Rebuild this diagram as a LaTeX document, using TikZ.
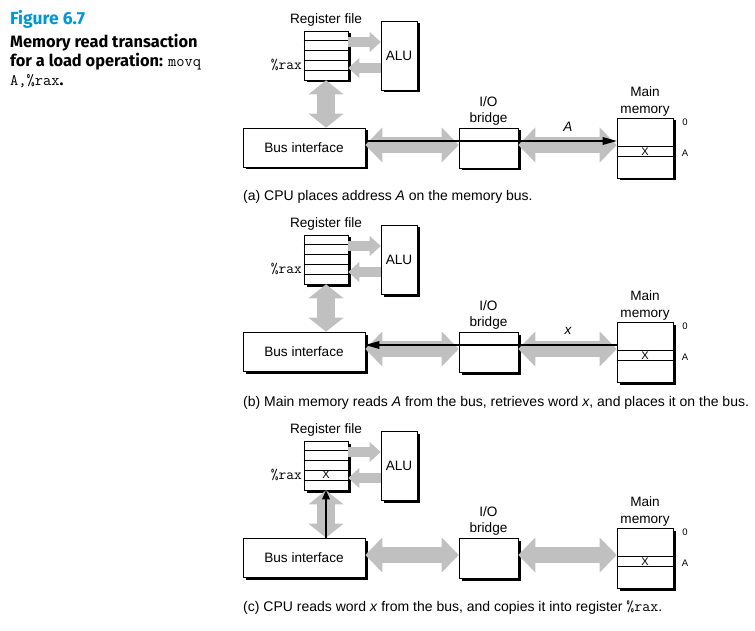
\documentclass[tikz,border=0pt]{standalone}
\usepackage{fontspec}
\setmainfont{Liberation Sans}
\newfontfamily\titlefont{Fira Sans}
\usetikzlibrary{arrows.meta,calc}
\definecolor{figblue}{RGB}{0,150,214}
\definecolor{arrgray}{RGB}{192,192,192}
\tikzset{
  box/.style={draw=black, line width=0.6pt, fill=white, inner sep=0pt,
    preaction={fill=black, transform canvas={shift={(2.5pt,-2.5pt)}}}},
  lbl/.style={font=\fontsize{13.6}{16.5}\selectfont, inner sep=0pt, align=center},
  smalllbl/.style={font=\fontsize{9.5}{10}\selectfont, inner sep=0pt},
  xlbl/.style={font=\fontsize{11}{12}\selectfont, inner sep=0pt},
  ttlbl/.style={font=\fontsize{15}{17}\selectfont\ttfamily, inner sep=0pt},
  bigarrow/.style={draw=arrgray, line width=16pt,
    {Triangle[width=35pt,length=17pt,line width=0pt]}-{Triangle[width=35pt,length=17pt,line width=0pt]}},
  vertarrow/.style={draw=arrgray, line width=18pt,
    {Triangle[width=35pt,length=14pt,line width=0pt]}-{Triangle[width=35pt,length=14pt,line width=0pt]}},
  smallarrow/.style={draw=arrgray, line width=9.5pt,
    -{Triangle[width=20pt,length=11pt,line width=0pt]}},
  blkarrow/.style={draw=black, line width=1.6pt,
    -{Triangle[width=8pt,length=14pt,line width=0pt]}},
  blkvarrow/.style={draw=black, line width=1.6pt,
    -{Triangle[width=8pt,length=9pt,line width=0pt]}},
  caption/.style={font=\fontsize{14}{16}\selectfont, inner sep=0pt, anchor=base west},
  titletxt/.style={font=\titlefont\bfseries\fontsize{16.4}{19}\selectfont, inner sep=0pt, anchor=base west},
}
\newcommand{\drawpanel}[2]{%
\begin{scope}[shift={(0,#2)}]
  % register file
  \node[box, minimum width=44pt, minimum height=49pt] (rf#1) at (326,55.5) {};
  \foreach \i in {1,2,3,4} {
    \draw[line width=0.6pt] ($(rf#1.north west)+(0,9.8*\i)$) -- ($(rf#1.north east)+(0,9.8*\i)$);
  }
  \node[lbl, anchor=south] (rflbl#1) at (326,27) {Register file};
  \node[ttlbl, anchor=east] (rax#1) at (302,65) {\%rax};
  % ALU
  \node[box, lbl, minimum width=36pt, minimum height=69pt] (alu#1) at (399,55.5) {ALU};
  % bus interface
  \node[box, lbl, minimum width=122pt, minimum height=39pt] (bus#1) at (304,147.5) {Bus interface};
  % I/O bridge
  \node[box, minimum width=59pt, minimum height=40pt] (br#1) at (488.5,148) {};
  \node[lbl] (brlbl#1) at (488.5,111) {I/O\\bridge};
  % main memory
  \node[box, minimum width=56pt, minimum height=60pt] (mem#1) at (645,148) {};
  \draw[line width=0.6pt] ($(mem#1.north west)+(0,29)$) -- ($(mem#1.north east)+(0,29)$);
  \draw[line width=0.6pt] ($(mem#1.north west)+(0,39)$) -- ($(mem#1.north east)+(0,39)$);
  \node[xlbl] (memx#1) at (645,152) {X};
  \node[lbl] (memlbl#1) at (645,101.5) {Main\\memory};
  \node[smalllbl] (zero#1) at (685,122) {0};
  \node[smalllbl] (addrA#1) at (685,153) {A};
  % gray arrows
  \draw[smallarrow] ([yshift=13.5pt]rf#1.east) -- ([yshift=13.5pt]rf#1.east -| alu#1.west);
  \draw[smallarrow] ([yshift=-12.5pt]rf#1.east -| alu#1.west) -- ([yshift=-12.5pt]rf#1.east);
  \draw[vertarrow] (rf#1.south) -- (rf#1.south |- bus#1.north);
  \draw[bigarrow] ([yshift=2.5pt]bus#1.east) -- ([yshift=2.5pt]bus#1.east -| br#1.west);
  \draw[bigarrow] ([yshift=3pt]br#1.east) -- ([yshift=3pt]br#1.east -| mem#1.west);
\end{scope}}

\begin{document}
\begin{tikzpicture}[x=1pt,y=-1pt]
\useasboundingbox (0,0) rectangle (755,631);
% title
\node[titletxt, text=figblue, font=\titlefont\bfseries\fontsize{17.5}{19}\selectfont] (fig) at (10,25) {Figure 6.7};
\node[titletxt] (t1) at (10,48) {Memory read transaction};
\node[titletxt] (t2) at (10,67) {for a load operation: {\mdseries\ttfamily\fontsize{16}{18}\selectfont movq}};
\node[titletxt] (t3) at (10,86) {{\mdseries\ttfamily\fontsize{16}{18}\selectfont A,\%rax}.};

% panel (a)
\drawpanel{a}{0}
\draw[blkarrow] ([yshift=6.5pt]busa.east) -- ([yshift=6.5pt]busa.east -| mema.west);
\node[lbl, font=\fontsize{13.6}{16}\selectfont\itshape] (Alab) at (568,127) {A};
\node[caption] (capa) at (243,201) {(a) CPU places address \textit{A} on the memory bus.};

% panel (b)
\drawpanel{b}{204}
\draw[blkarrow] ([yshift=6.5pt]busb.east -| memb.west) -- ([yshift=6.5pt]busb.east);
\node[lbl, font=\fontsize{13.6}{16}\selectfont\itshape] (xlab) at (568,331) {x};
\node[caption] (capb) at (243,406) {(b) Main memory reads \textit{A} from the bus, retrieves word \textit{x}, and places it on the bus.};

% panel (c)
\drawpanel{c}{410}
\node[xlbl] (regx) at (326,475) {X};
\draw[blkvarrow] (rfc.south |- busc.north) -- (rfc.south);
\node[caption] (capc) at (243,611) {(c) CPU reads word \textit{x} from the bus, and copies it into register {\ttfamily\fontsize{15.5}{16}\selectfont\%rax}.};
\end{tikzpicture}
\end{document}
